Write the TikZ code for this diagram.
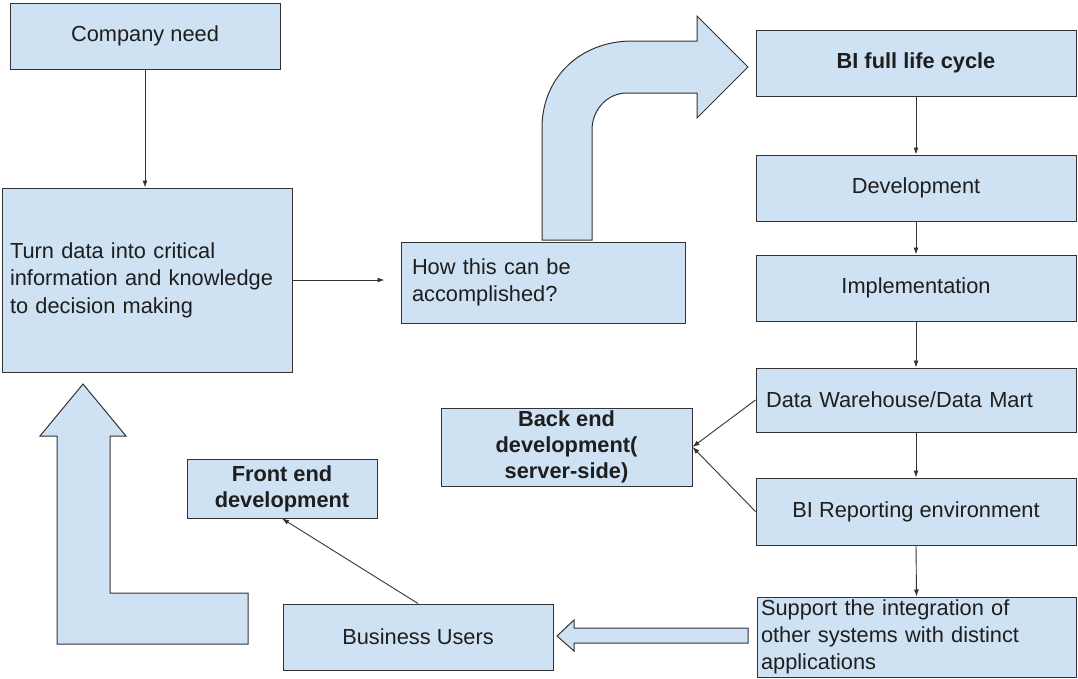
\documentclass[tikz,border=0pt]{standalone}
\usepackage{fontspec}
\setmainfont{Liberation Sans}
\usetikzlibrary{arrows.meta}
\definecolor{boxblue}{HTML}{CFE2F3}
\definecolor{edge}{HTML}{333333}
\definecolor{txt}{HTML}{1E1E1E}
\tikzset{
  box/.style={draw=edge, fill=boxblue, line width=1pt, inner sep=0pt, text=txt,
    font=\fontsize{21.8}{27.5}\selectfont},
  btext/.style={align=center, font=\fontsize{21.8}{26}\selectfont\bfseries},
  conn/.style={draw=edge, line width=0.9pt, -{Latex[length=7pt,width=5pt]}},
  blockarrow/.style={draw=edge, fill=boxblue, line width=1pt, line join=miter}
}
\begin{document}
\begin{tikzpicture}[x=1pt,y=-1pt]
\useasboundingbox (0,0) rectangle (1078,678);
% block arrows
\draw[blockarrow] (542,240) -- (542,128) .. controls (542,76) and (582,41) .. (632,41)
  -- (697,41) -- (697,16) -- (748,67) -- (697,118) -- (697,93) -- (627,93)
  .. controls (607,93) and (592,110) .. (592,130) -- (592,240) -- cycle;
\draw[blockarrow] (83,384) -- (126,436) -- (110,436) -- (110,593) -- (248,593) -- (248,644)
  -- (57,644) -- (57,436) -- (40,436) -- cycle;
\draw[blockarrow] (748,628) -- (574,628) -- (574,620) -- (557,636) -- (574,651) -- (574,643)
  -- (748,643) -- cycle;
% boxes
\node[box, minimum width=270pt, minimum height=66pt] (cn) at (145,36) {Company need};
\node[box, minimum width=290pt, minimum height=184pt, text width=274pt, align=left] (td) at (147,280)
  {Turn data into critical\\information and knowledge\\to decision making};
\node[box, minimum width=284pt, minimum height=81pt, text width=262pt, align=left] (how) at (543,282.5)
  {How this can be\\accomplished?};
\node[box, minimum width=320pt, minimum height=66pt, font=\fontsize{21.8}{26}\selectfont\bfseries] (bi) at (916,63) {BI full life cycle};
\node[box, minimum width=320pt, minimum height=66pt] (dev) at (916,188) {Development};
\node[box, minimum width=320pt, minimum height=64pt, text width=300pt, align=left] (dw) at (916,400) {Data Warehouse/Data Mart};
\node[box, minimum width=320pt, minimum height=66pt] (impl) at (916,288) {Implementation};
\node[box, minimum width=320pt, minimum height=67pt] (rep) at (916,511.5) {BI Reporting environment};
\node[box, minimum width=319pt, minimum height=80pt, text width=311pt, align=left,
  font=\fontsize{21.8}{27}\selectfont] (sup) at (916.5,637)
  {Support the integration of\\other systems with distinct\\applications};
\node[box, minimum width=251pt, minimum height=78pt, btext] (be) at (566.5,447)
  {Back end\\development(\\server-side)};
\node[box, minimum width=190pt, minimum height=59pt, btext] (fe) at (282,488.5)
  {Front end\\development};
\node[box, minimum width=270pt, minimum height=66pt] (bu) at (418,637) {Business Users};
% connectors
\draw[conn] (cn.south) -- (cn.south |- td.north);
\draw[conn, shorten >=16pt] (td.east) -- (td.east -| how.west);
\draw[conn] (bi.south) -- (dev.north);
\draw[conn] (dev.south) -- (impl.north);
\draw[conn] (impl.south) -- (dw.north);
\draw[conn] (dw.south) -- (rep.north);
\draw[conn] (rep.south) -- (sup.north);
\draw[conn] (dw.west) -- (be.east);
\draw[conn] (rep.west) -- (be.east);
\draw[conn] (bu.north) -- (fe.south);
\end{tikzpicture}
\end{document}
